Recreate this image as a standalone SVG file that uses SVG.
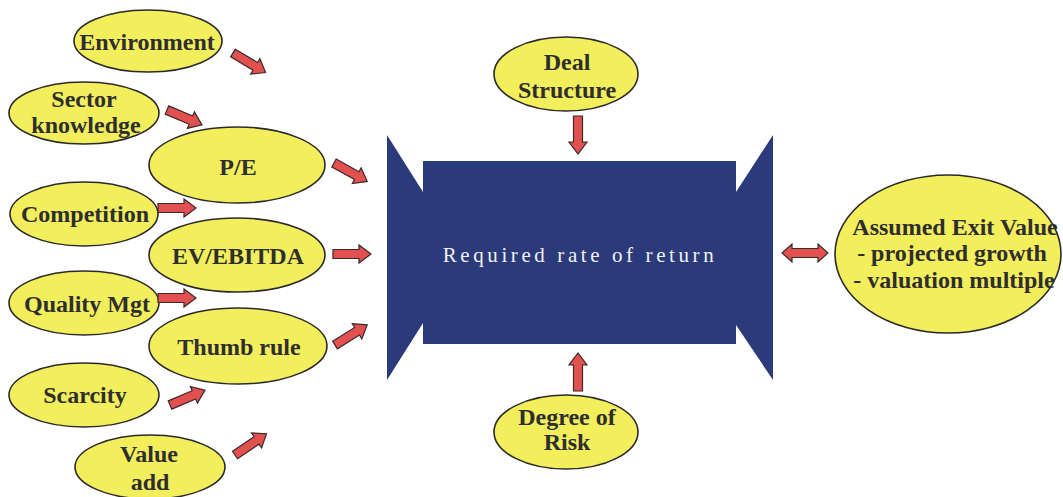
<svg xmlns="http://www.w3.org/2000/svg" xmlns:xlink="http://www.w3.org/1999/xlink" width="1063" height="497" viewBox="0 0 1063 497">
<style>
.nd{fill:#f3ee5c;stroke:#2a2a2a;stroke-width:1.6}
.t{font-family:"Liberation Serif","DejaVu Serif",serif;font-weight:bold;font-size:24px;fill:#2e2e2e;text-anchor:middle}
.c{font-family:"Liberation Serif","DejaVu Serif",serif;font-size:21px;fill:#f2f2f2;text-anchor:middle;letter-spacing:3.6px}
.ar{fill:#e2514f;stroke:#3a2a2a;stroke-width:1.2;stroke-linejoin:miter}
.box{fill:#2a3a7a}
</style>
<defs>
<path id="arr" class="ar" d="M0,-4.5 H26 V-9 L38,0 L26,9 V4.5 H0 Z"/>
</defs>
<rect width="1063" height="497" fill="#ffffff"/>

<g id="center">
<polygon class="box" points="387,135 423,192 423,323 387,380"/>
<polygon class="box" points="773,135 736,192 736,325 773,380"/>
<rect class="box" x="423" y="161" width="313" height="183"/>
<text class="c" x="580" y="262">Required rate of return</text>
</g>

<g id="environment"><ellipse class="nd" cx="148" cy="41" rx="74" ry="31"/><text class="t" x="147" y="50">Environment</text></g>
<g id="sector"><ellipse class="nd" cx="84" cy="113" rx="75" ry="31"/><text class="t" x="84" y="107">Sector</text><text class="t" x="86" y="133">knowledge</text></g>
<g id="pe"><ellipse class="nd" cx="237" cy="165" rx="88" ry="38"/><text class="t" x="238" y="175">P/E</text></g>
<g id="competition"><ellipse class="nd" cx="84" cy="214" rx="74" ry="32"/><text class="t" x="85" y="222">Competition</text></g>
<g id="evebitda"><ellipse class="nd" cx="237" cy="255" rx="88" ry="37"/><text class="t" x="238" y="264">EV/EBITDA</text></g>
<g id="quality"><ellipse class="nd" cx="84" cy="303" rx="75" ry="32"/><text class="t" x="87" y="312">Quality Mgt</text></g>
<g id="thumb"><ellipse class="nd" cx="238" cy="346" rx="89" ry="38"/><text class="t" x="239" y="355">Thumb rule</text></g>
<g id="scarcity"><ellipse class="nd" cx="84" cy="395" rx="75" ry="32"/><text class="t" x="85" y="403">Scarcity</text></g>
<g id="valueadd"><ellipse class="nd" cx="150" cy="467" rx="75" ry="32"/><text class="t" x="149" y="462">Value</text><text class="t" x="150" y="490">add</text></g>
<g id="deal"><ellipse class="nd" cx="566" cy="74" rx="72" ry="37"/><text class="t" x="567" y="70">Deal</text><text class="t" x="567" y="98">Structure</text></g>
<g id="risk"><ellipse class="nd" cx="566" cy="432" rx="72" ry="37"/><text class="t" x="567" y="425">Degree of</text><text class="t" x="567" y="450">Risk</text></g>
<g id="exit"><ellipse class="nd" cx="948" cy="254" rx="113" ry="79"/><text class="t" x="955" y="235">Assumed Exit Value</text><text class="t" x="952" y="261">- projected growth</text><text class="t" x="954" y="288">- valuation multiple</text></g>

<g id="connectors">
<use xlink:href="#arr" transform="translate(233,53) rotate(31)"/>
<use xlink:href="#arr" transform="translate(167,110) rotate(23)"/>
<use xlink:href="#arr" transform="translate(334,163) rotate(29)"/>
<use xlink:href="#arr" transform="translate(158,208)"/>
<use xlink:href="#arr" transform="translate(333,254)"/>
<use xlink:href="#arr" transform="translate(158,298)"/>
<use xlink:href="#arr" transform="translate(335,345) rotate(-32)"/>
<use xlink:href="#arr" transform="translate(170,405) rotate(-23)"/>
<use xlink:href="#arr" transform="translate(235,455) rotate(-34)"/>
<use xlink:href="#arr" transform="translate(578,116) rotate(90)"/>
<use xlink:href="#arr" transform="translate(578,391) rotate(-90)"/>
<path class="ar" d="M782,253 L792,244 V248.5 H818 V244 L828,253 L818,262 V257.5 H792 V262 Z"/>
</g>
</svg>
